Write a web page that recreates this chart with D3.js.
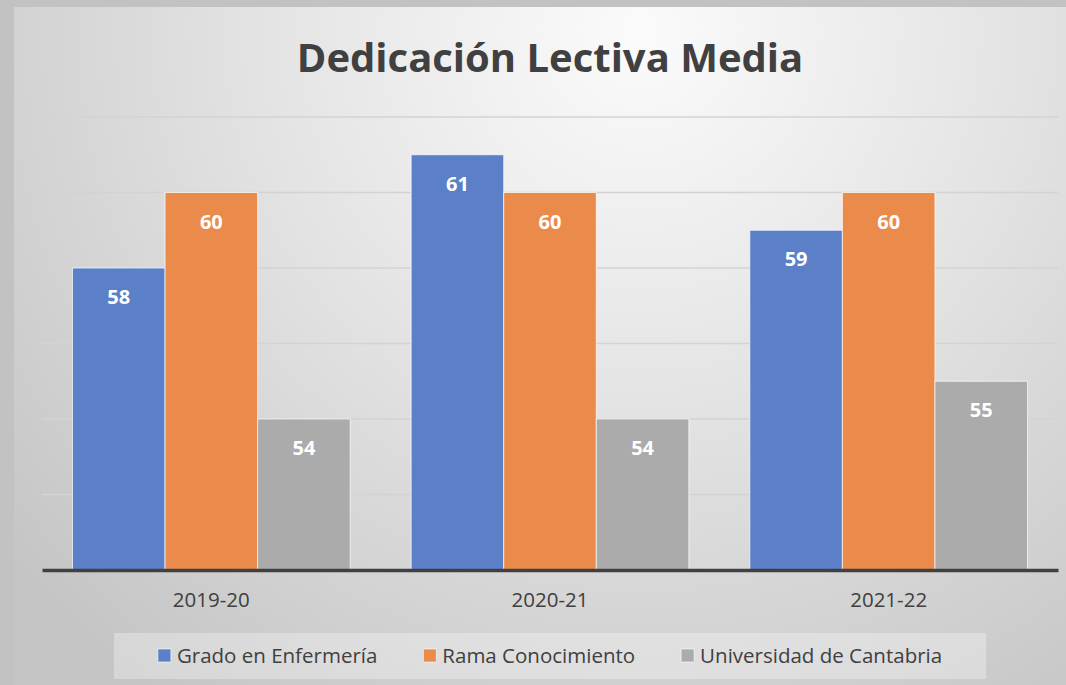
<!DOCTYPE html>
<html>
<head>
<meta charset="utf-8">
<script src="https://cdn.jsdelivr.net/npm/d3@7"></script>
<style>
  html, body { margin: 0; padding: 0; background: #c3c3c3; }
  svg { display: block; font-family: "Open Sans", "DejaVu Sans", sans-serif; }
</style>
</head>
<body>
<div id="chart"></div>
<script>
var years = ["2019-20", "2020-21", "2021-22"];
var seriesNames = ["Grado en Enfermería", "Rama Conocimiento", "Universidad de Cantabria"];
var enfermeria = [58, 61, 59];
var rama = [60, 60, 60];
var universidad = [54, 54, 55];
var yTicks = [50, 52, 54, 56, 58, 60, 62];
var colors = ["#5b80c8", "#eb8b4b", "#ababab"];

var W = 1066, H = 685;
var margin = { left: 42, right: 8, top: 117, bottom: 115 };

var svg = d3.select("#chart").append("svg")
    .attr("width", W)
    .attr("height", H);

// background: grey frame + soft radial gradient
var defs = svg.append("defs");
var grad = defs.append("radialGradient")
    .attr("id", "bg")
    .attr("gradientUnits", "userSpaceOnUse")
    .attr("cx", 640).attr("cy", 30).attr("r", 820);
grad.append("stop").attr("offset", "0%").attr("stop-color", "#fbfbfb");
grad.append("stop").attr("offset", "45%").attr("stop-color", "#e4e4e4");
grad.append("stop").attr("offset", "100%").attr("stop-color", "#c5c5c5");

svg.append("rect").attr("width", W).attr("height", H).attr("fill", "#c2c2c2");
svg.append("rect")
    .attr("x", 14).attr("y", 7)
    .attr("width", W - 14).attr("height", H - 7)
    .attr("fill", "url(#bg)");

var x0 = d3.scaleBand()
    .domain(years)
    .range([margin.left, W - margin.right])
    .paddingInner(0.18)
    .paddingOuter(0.09);

var x1 = d3.scaleBand()
    .domain(seriesNames)
    .range([0, x0.bandwidth()]);

var y = d3.scaleLinear()
    .domain([50, 62])
    .range([H - margin.bottom, margin.top]);

// gridlines
svg.append("g")
  .selectAll("line")
  .data(yTicks.slice(1))
  .join("line")
    .attr("x1", margin.left)
    .attr("x2", W - margin.right)
    .attr("y1", function(d) { return y(d); })
    .attr("y2", function(d) { return y(d); })
    .attr("stroke", "#d3d3d3")
    .attr("stroke-width", 1.5);

var table = years.map(function(yr, i) {
  return {
    year: yr,
    values: [enfermeria[i], rama[i], universidad[i]].map(function(v, j) {
      return { name: seriesNames[j], value: v, color: colors[j] };
    })
  };
});

var groups = svg.append("g")
  .selectAll("g")
  .data(table)
  .join("g")
    .attr("transform", function(d) { return "translate(" + x0(d.year) + ",0)"; });

groups.selectAll("rect")
  .data(function(d) { return d.values; })
  .join("rect")
    .attr("x", function(d) { return x1(d.name); })
    .attr("y", function(d) { return y(d.value); })
    .attr("width", x1.bandwidth())
    .attr("height", function(d) { return y(50) - y(d.value); })
    .attr("fill", function(d) { return d.color; })
    .attr("stroke", "rgba(255,255,255,0.7)")
    .attr("stroke-width", 1);

groups.selectAll("text")
  .data(function(d) { return d.values; })
  .join("text")
    .attr("x", function(d) { return x1(d.name) + x1.bandwidth() / 2; })
    .attr("y", function(d) { return y(d.value) + 36; })
    .attr("text-anchor", "middle")
    .attr("fill", "#ffffff")
    .attr("font-weight", "bold")
    .attr("font-size", 20)
    .text(function(d) { return d.value; });

// x axis
var xAxis = svg.append("g")
    .attr("transform", "translate(0," + y(50) + ")")
    .call(d3.axisBottom(x0).tickSize(0).tickPadding(22));
xAxis.select(".domain")
    .attr("stroke", "#404040")
    .attr("stroke-width", 3.5);
xAxis.selectAll("text")
    .attr("font-family", "Open Sans, sans-serif")
    .attr("font-size", 20.5)
    .attr("fill", "#404040");

// title
svg.append("text")
    .attr("x", (margin.left + W - margin.right) / 2)
    .attr("y", 72)
    .attr("text-anchor", "middle")
    .attr("font-weight", "bold")
    .attr("font-size", 40)
    .attr("fill", "#404040")
    .text("Dedicación Lectiva Media");

// legend
var legend = svg.append("g");
legend.append("rect")
    .attr("x", 114).attr("y", 633)
    .attr("width", 872).attr("height", 46)
    .attr("fill", "rgba(255,255,255,0.3)");

var items = legend.selectAll("g.item")
  .data(seriesNames)
  .join("g")
    .attr("class", "item");
items.append("rect")
    .attr("width", 13).attr("height", 13)
    .attr("y", 649)
    .attr("fill", function(d, i) { return colors[i]; })
    .attr("stroke", "rgba(255,255,255,0.6)")
    .attr("stroke-width", 1);
items.append("text")
    .attr("x", 19)
    .attr("y", 663)
    .attr("font-size", 20.5)
    .attr("fill", "#404040")
    .text(function(d) { return d; });

// lay items out centred in the legend box
var gap = 46, widths = [];
items.each(function() {
  widths.push(19 + d3.select(this).select("text").node().getComputedTextLength());
});
var total = d3.sum(widths) + gap * (widths.length - 1);
var cx = 114 + (872 - total) / 2;
items.each(function(d, i) {
  d3.select(this).attr("transform", "translate(" + cx + ",0)");
  cx += widths[i] + gap;
});
</script>
</body>
</html>
